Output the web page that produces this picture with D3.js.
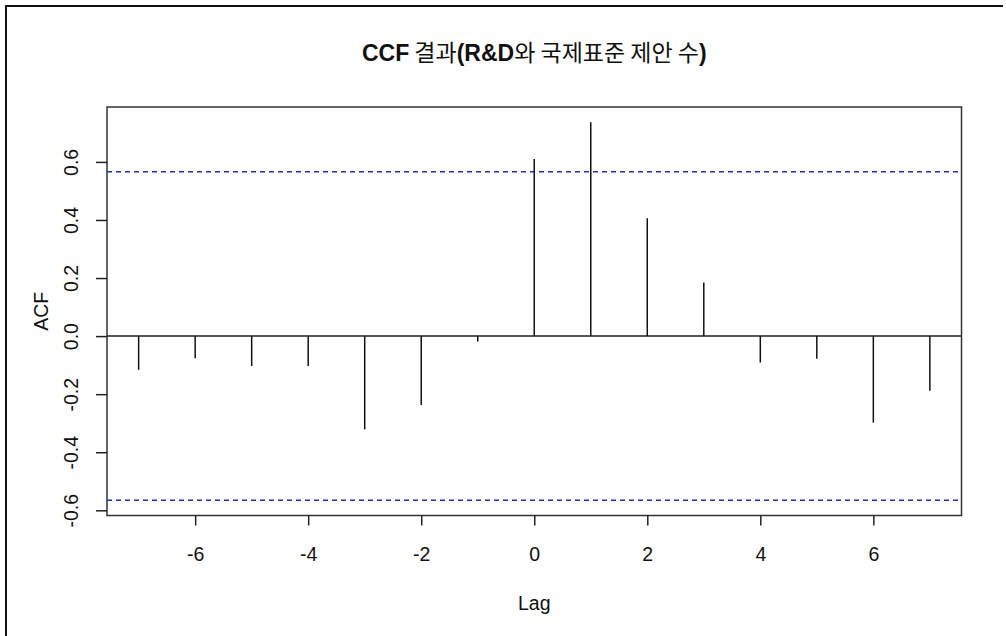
<!DOCTYPE html>
<html>
<head>
<meta charset="utf-8">
<script src="https://cdn.jsdelivr.net/npm/d3@7"></script>
<style>
  body { margin: 0; background: #fff; }
  svg text { font-family: "Liberation Sans", Arial, sans-serif; fill: #111; }
</style>
</head>
<body>
<script>
// lags and cross correlations
const lags = [-7, -6, -5, -4, -3, -2, -1, 0, 1, 2, 3, 4, 5, 6, 7];
const acfValues = [-0.116, -0.076, -0.103, -0.103, -0.321, -0.237, -0.019,
                   0.610, 0.737, 0.406, 0.185, -0.091, -0.078, -0.298, -0.188];
const xTicks = [-6, -4, -2, 0, 2, 4, 6];
const yTicks = [-0.6, -0.4, -0.2, 0.0, 0.2, 0.4, 0.6];
const yTickLabels = ["-0.6", "-0.4", "-0.2", "0.0", "0.2", "0.4", "0.6"];
const nObs = 12;
const clim = 1.959964 / Math.sqrt(nObs);

let width = 1006;
let height = 636;
let plotLeft = 107, plotRight = 961.5, plotTop = 107, plotBottom = 515.5;

let svg = d3.select("body")
    .append("svg")
    .attr("width", width)
    .attr("height", height)

// frame of the original picture (cropped at right and bottom)
svg.append("line").attr("x1", 5).attr("x2", 1003).attr("y1", 6).attr("y2", 6)
    .attr("stroke", "#111").attr("stroke-width", 2)
svg.append("line").attr("x1", 6).attr("x2", 6).attr("y1", 5).attr("y2", 636)
    .attr("stroke", "#111").attr("stroke-width", 2)

// R style limits: range extended by 4%
let xmin = d3.min(lags), xmax = d3.max(lags);
let xpad = (xmax - xmin) * 0.04;
let xScale = d3.scaleLinear()
    .domain([xmin - xpad, xmax + xpad])
    .range([plotLeft, plotRight])

let ymin = Math.min(-clim, d3.min(acfValues));
let ymax = Math.max(clim, d3.max(acfValues));
let ypad = (ymax - ymin) * 0.04;
let yScale = d3.scaleLinear()
    .domain([ymin - ypad, ymax + ypad])
    .range([plotBottom, plotTop])

// zero line
svg.append("line")
    .attr("x1", plotLeft).attr("x2", plotRight)
    .attr("y1", yScale(0)).attr("y2", yScale(0))
    .attr("stroke", "#222").attr("stroke-width", 1.5)

// confidence lines
svg.selectAll(".clim")
    .data([clim, -clim])
    .enter()
    .append("line")
    .attr("class", "clim")
    .attr("x1", plotLeft).attr("x2", plotRight)
    .attr("y1", (d) => yScale(d)).attr("y2", (d) => yScale(d))
    .attr("stroke", "#2a2ab0")
    .attr("stroke-width", 1.5)
    .attr("stroke-dasharray", "5,4")

// spikes
svg.selectAll(".spike")
    .data(lags)
    .enter()
    .append("line")
    .attr("class", "spike")
    .attr("x1", (d) => xScale(d)).attr("x2", (d) => xScale(d))
    .attr("y1", yScale(0))
    .attr("y2", (d, i) => yScale(acfValues[i]))
    .attr("stroke", "#111")
    .attr("stroke-width", 1.5)

// box
svg.append("rect")
    .attr("x", plotLeft).attr("y", plotTop)
    .attr("width", plotRight - plotLeft).attr("height", plotBottom - plotTop)
    .attr("fill", "none")
    .attr("stroke", "#333")
    .attr("stroke-width", 1.5)

// x axis
let xAxis = d3.axisBottom(xScale).tickValues(xTicks).tickSize(10).tickSizeOuter(0)
    .tickFormat((d) => String(d))
let gx = svg.append("g")
    .attr("transform", "translate(0," + plotBottom + ")")
    .call(xAxis)
gx.select(".domain").remove()
gx.selectAll(".tick line").attr("stroke", "#222").attr("stroke-width", 1.5)
gx.selectAll(".tick text")
    .attr("dy", null).attr("y", 45)
    .style("font-size", "19.5px")
    .style("font-family", "Liberation Sans, Arial, sans-serif")
    .attr("fill", "#111")

// y axis
let yAxis = d3.axisLeft(yScale).tickValues(yTicks).tickSize(11).tickSizeOuter(0)
    .tickFormat((d, i) => yTickLabels[i])
let gy = svg.append("g")
    .attr("transform", "translate(" + plotLeft + ",0)")
    .call(yAxis)
gy.select(".domain").remove()
gy.selectAll(".tick line").attr("stroke", "#222").attr("stroke-width", 1.5)
gy.selectAll(".tick text")
    .attr("x", null).attr("dy", null)
    .attr("text-anchor", "middle")
    .attr("transform", "translate(-29,0) rotate(-90)")
    .style("font-size", "19.5px")
    .style("font-family", "Liberation Sans, Arial, sans-serif")
    .attr("fill", "#111")

// axis labels
svg.append("text")
    .attr("x", (plotLeft + plotRight) / 2)
    .attr("y", 610)
    .attr("text-anchor", "middle")
    .style("font-size", "19.5px")
    .text("Lag")

svg.append("text")
    .attr("transform", "translate(48," + (plotTop + plotBottom) / 2 + ") rotate(-90)")
    .attr("text-anchor", "middle")
    .style("font-size", "19.5px")
    .text("ACF")

// title
let title = svg.append("text")
    .attr("x", (plotLeft + plotRight) / 2)
    .attr("y", 61)
    .attr("text-anchor", "middle")
    .style("font-size", "23px")
const titleParts = [
    ["CCF", true], [" 결과", false], ["(R&D", true],
    ["와 국제표준 제안 수", false], [")", true]
];
titleParts.forEach(([t, bold]) => {
    title.append("tspan")
        .text(t)
        .style("font-weight", bold ? "bold" : "normal")
        .style("font-family", bold ? "Liberation Sans, Arial, sans-serif" : "Noto Sans CJK KR, sans-serif")
})
</script>
</body>
</html>
